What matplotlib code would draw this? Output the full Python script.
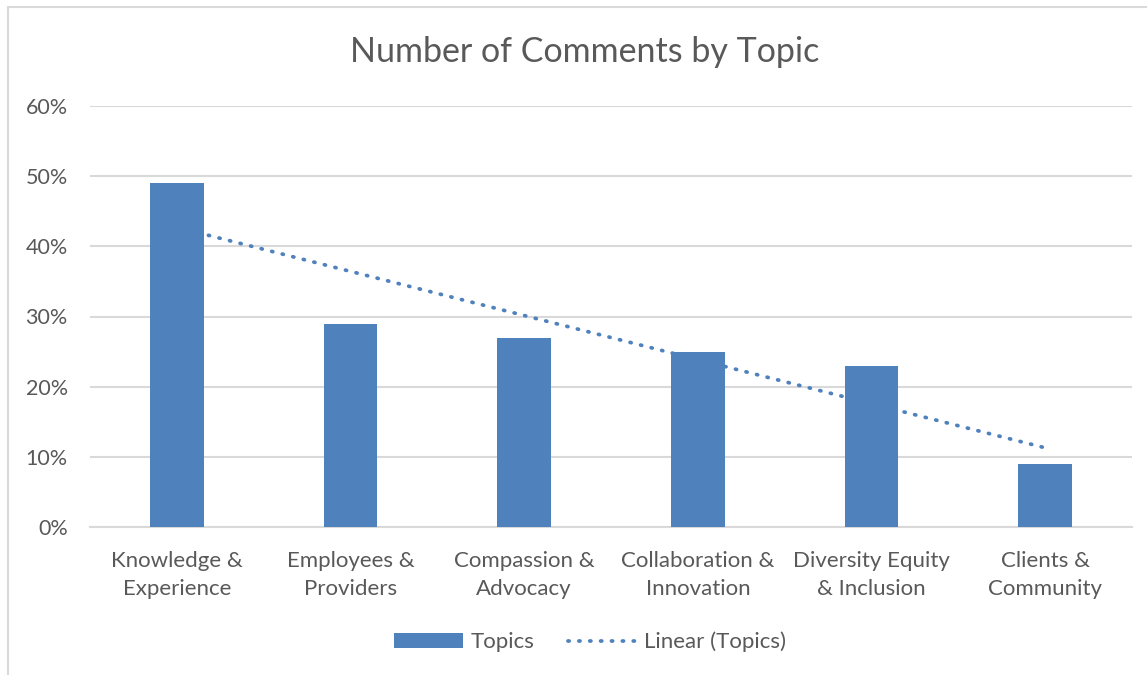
import numpy as np
import matplotlib.pyplot as plt
from matplotlib.patches import Rectangle
from matplotlib.ticker import PercentFormatter

plt.rcParams['font.family'] = ['Lato', 'DejaVu Sans']

topics = ["Knowledge &\nExperience", "Employees &\nProviders", "Compassion &\nAdvocacy",
          "Collaboration &\nInnovation", "Diversity Equity\n& Inclusion", "Clients &\nCommunity"]
shares = [0.49, 0.29, 0.27, 0.25, 0.23, 0.09]
y_ticks = [0.0, 0.1, 0.2, 0.3, 0.4, 0.5, 0.6]

text_col = '#595959'
bar_col = '#4F81BD'
grid_col = '#D9D9D9'

fig = plt.figure(figsize=(11.47, 6.75), dpi=100)
# chart frame
fig.patches.append(Rectangle((8 / 1147, -0.1), 1.2, 1 - 7 / 675 + 0.1, transform=fig.transFigure,
                             fill=False, edgecolor='#D9D9D9', linewidth=1.5))

ax = fig.add_axes([90 / 1147, 1 - 527 / 675, (1132 - 90) / 1147, (527 - 106) / 675])
x = np.arange(len(topics))

# linear trendline through the bar values
slope, intercept = np.polyfit(x, shares, 1)
ax.plot([x[0], x[-1]], [intercept + slope * x[0], intercept + slope * x[-1]],
        color=bar_col, linestyle=(0, (0.3, 2.6)), linewidth=2.7, dash_capstyle='round',
        zorder=2, label='Linear (Topics)')
ax.bar(x, shares, width=0.31, color=bar_col, zorder=3, label='Topics')

ax.set_xlim(-0.5, len(topics) - 0.5)
ax.set_ylim(0, 0.6)
ax.set_yticks(y_ticks)
ax.yaxis.set_major_formatter(PercentFormatter(1.0, decimals=0))
ax.set_xticks(x)
ax.set_xticklabels(topics, fontsize=16, color=text_col, linespacing=1.5)
ax.tick_params(axis='y', labelsize=15.5, labelcolor=text_col, length=0, pad=16)
ax.tick_params(axis='x', length=0, pad=17.5)
ax.grid(axis='y', color=grid_col, linewidth=1.5, zorder=0)
ax.set_axisbelow(True)
for s in ax.spines.values():
    s.set_visible(False)
ax.spines['bottom'].set_visible(True)
ax.spines['bottom'].set_color(grid_col)
ax.spines['bottom'].set_linewidth(1.5)

fig.text(585 / 1147, 1 - 52 / 675, "Number of Comments by Topic", ha='center', va='center',
         fontsize=24.5, color=text_col)

handles, labels = ax.get_legend_handles_labels()
fig.legend(handles[::-1], labels[::-1], loc='center', bbox_to_anchor=(590 / 1147, 1 - 642 / 675),
           ncol=2, frameon=False, fontsize=16, labelcolor=text_col, handlelength=3.1,
           handleheight=0.65, columnspacing=1.5, handletextpad=0.35)

fig.savefig('out.png', dpi=100)
